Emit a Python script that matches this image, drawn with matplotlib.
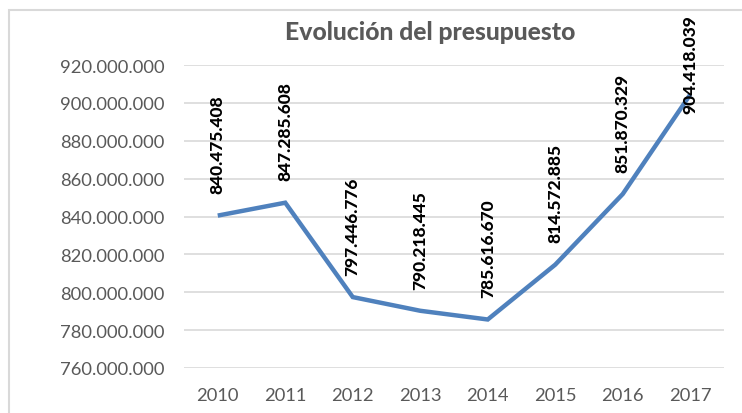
import matplotlib.pyplot as plt
from matplotlib.ticker import FuncFormatter
from matplotlib.patches import Rectangle

plt.rcParams['font.family'] = ['Lato', 'DejaVu Sans']

# presupuesto anual
anios = ['2010', '2011', '2012', '2013', '2014', '2015', '2016', '2017']
presupuesto = [840475408, 847285608, 797446776, 790218445,
               785616670, 814572885, 851870329, 904418039]


def miles(v, pos=None):
    return f'{int(round(v)):,}'.replace(',', '.')


fig = plt.figure(figsize=(7.42, 4.14), dpi=100)
ax = fig.add_axes([184 / 742, 1 - 369 / 414, 540 / 742, (369 - 66) / 414])

x = list(range(len(anios)))
ax.plot(x, presupuesto, color='#4F81BD', linewidth=3.2, solid_joinstyle='miter',
        solid_capstyle='butt', zorder=3)

ax.set_xlim(-0.5, len(anios) - 0.5)
ax.set_ylim(760000000, 920000000)
ax.set_yticks(range(760000000, 920000001, 20000000))
ax.yaxis.set_major_formatter(FuncFormatter(miles))
ax.set_xticks(x)
ax.set_xticklabels(anios)
ax.grid(axis='y', color='#D9D9D9', linewidth=1.2)
ax.set_axisbelow(True)
for s in ax.spines.values():
    s.set_visible(False)
ax.tick_params(length=0, labelsize=13.2, labelcolor='#595959', pad=14)
ax.tick_params(axis='x', pad=14)

# etiquetas de datos verticales, limitadas al borde superior
fig.canvas.draw()
tope = fig.bbox.height - 15
for xi, v in zip(x, presupuesto):
    t = ax.annotate(miles(v), (xi, v), xytext=(0, 16), textcoords='offset points',
                    rotation=90, ha='center', va='bottom', fontsize=12.5,
                    fontweight='black', color='black', annotation_clip=False)
    bb = t.get_window_extent(fig.canvas.get_renderer())
    if bb.y1 > tope:
        t.set_position((0, 16 - (bb.y1 - tope) * 72 / fig.dpi))

fig.text(430 / 742, 1 - 33 / 414, 'Evolución del presupuesto', ha='center',
         va='center', fontsize=17.8, fontweight='black', color='#595959')

# marco del área del gráfico
fig.patches.append(Rectangle((9 / 742, -0.1), 1.2, 1 - 11 / 414 + 0.1,
                             transform=fig.transFigure, fill=False,
                             edgecolor='#D9D9D9', linewidth=1.5))

fig.savefig('out.png', dpi=100)
